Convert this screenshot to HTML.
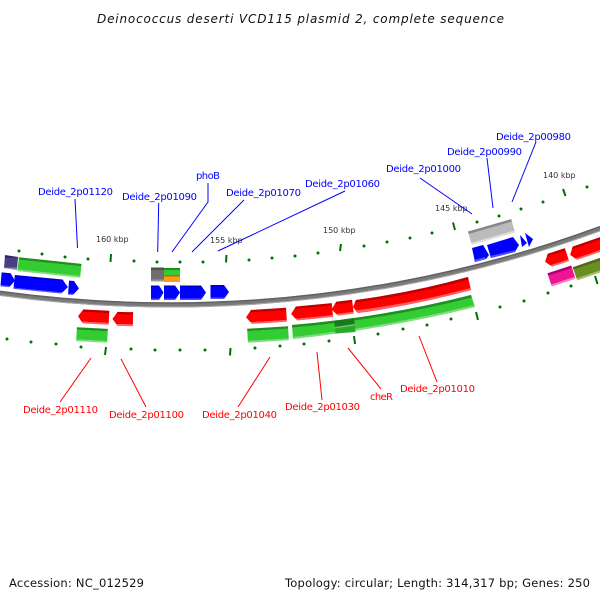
<!DOCTYPE html>
<html><head><meta charset="utf-8"><style>
html,body{margin:0;padding:0;background:#fff}
svg{display:block}
text{font-family:"DejaVu Sans","Liberation Sans",sans-serif}
.b{fill:#0000ff;font-size:10px}.r{fill:#ff0000;font-size:10px}
.k{fill:#333;font-size:8px}.t{fill:#111;font-size:11.500px}
.lb line,.lb polyline{stroke:#0000ff;fill:none;stroke-width:1}
.lr line{stroke:#ff0000;stroke-width:1}
.d circle{fill:#007000}
.m line{stroke:#007000;stroke-width:2}
</style></head><body>
<svg width="600" height="600" viewBox="0 0 600 600" xmlns="http://www.w3.org/2000/svg">
<defs>
<linearGradient id="gb" x1="0" y1="0" x2="0" y2="1"><stop offset="0" stop-color="#0000c8"/><stop offset=".1" stop-color="#0000c8"/><stop offset=".11" stop-color="#0000ff"/><stop offset=".9" stop-color="#0000ff"/><stop offset=".91" stop-color="#5050ff"/><stop offset="1" stop-color="#5050ff"/></linearGradient>
<linearGradient id="gr" x1="0" y1="0" x2="0" y2="1"><stop offset="0" stop-color="#c00000"/><stop offset=".16" stop-color="#c00000"/><stop offset=".17" stop-color="#ff0000"/><stop offset=".86" stop-color="#ff0000"/><stop offset=".87" stop-color="#ff6060"/><stop offset="1" stop-color="#ff6060"/></linearGradient>
<linearGradient id="gg" x1="0" y1="0" x2="0" y2="1"><stop offset="0" stop-color="#1f8f1f"/><stop offset=".16" stop-color="#1f8f1f"/><stop offset=".17" stop-color="#33cc33"/><stop offset=".86" stop-color="#33cc33"/><stop offset=".87" stop-color="#80dc80"/><stop offset="1" stop-color="#80dc80"/></linearGradient>
<linearGradient id="gy" x1="0" y1="0" x2="0" y2="1"><stop offset="0" stop-color="#888"/><stop offset=".18" stop-color="#888"/><stop offset=".19" stop-color="#bbb"/><stop offset=".84" stop-color="#bbb"/><stop offset=".85" stop-color="#ddd"/><stop offset="1" stop-color="#ddd"/></linearGradient>
<linearGradient id="gd" x1="0" y1="0" x2="0" y2="1"><stop offset="0" stop-color="#505050"/><stop offset=".18" stop-color="#505050"/><stop offset=".19" stop-color="#6e6e6e"/><stop offset=".84" stop-color="#6e6e6e"/><stop offset=".85" stop-color="#999"/><stop offset="1" stop-color="#999"/></linearGradient>
<linearGradient id="gn" x1="0" y1="0" x2="0" y2="1"><stop offset="0" stop-color="#2e2a60"/><stop offset=".18" stop-color="#2e2a60"/><stop offset=".19" stop-color="#484080"/><stop offset=".84" stop-color="#484080"/><stop offset=".85" stop-color="#8a84b0"/><stop offset="1" stop-color="#8a84b0"/></linearGradient>
<linearGradient id="go" x1="0" y1="0" x2="0" y2="1"><stop offset="0" stop-color="#b86a00"/><stop offset=".2" stop-color="#b86a00"/><stop offset=".21" stop-color="#ff9a1a"/><stop offset="1" stop-color="#ff9a1a"/></linearGradient>
<linearGradient id="gs" x1="0" y1="0" x2="0" y2="1"><stop offset="0" stop-color="#1f8f1f"/><stop offset=".25" stop-color="#1f8f1f"/><stop offset=".26" stop-color="#33cc33"/><stop offset="1" stop-color="#33cc33"/></linearGradient>
<linearGradient id="gp" x1="0" y1="0" x2="0" y2="1"><stop offset="0" stop-color="#b00070"/><stop offset=".18" stop-color="#b00070"/><stop offset=".19" stop-color="#ee1493"/><stop offset=".84" stop-color="#ee1493"/><stop offset=".85" stop-color="#f080c0"/><stop offset="1" stop-color="#f080c0"/></linearGradient>
<linearGradient id="gl" x1="0" y1="0" x2="0" y2="1"><stop offset="0" stop-color="#4f6a1a"/><stop offset=".18" stop-color="#4f6a1a"/><stop offset=".19" stop-color="#6b8e23"/><stop offset=".84" stop-color="#6b8e23"/><stop offset=".85" stop-color="#a8c070"/><stop offset="1" stop-color="#a8c070"/></linearGradient>
</defs>

<text class="t" x="97" y="23" font-style="italic" font-size="12" style="font-size:12px" textLength="407" lengthAdjust="spacing">Deinococcus deserti VCD115 plasmid 2, complete sequence</text>
<text class="t" x="9" y="587" textLength="135" lengthAdjust="spacing">Accession: NC_012529</text>
<text class="t" x="285" y="587" textLength="305" lengthAdjust="spacing">Topology: circular; Length: 314,317 bp; Genes: 250</text>

<!-- backbone -->
<g fill="none">
<circle cx="170" cy="-945" r="1250" stroke="#7a7a7a" stroke-width="5"/>
<circle cx="170" cy="-945" r="1248" stroke="#606060" stroke-width="1.400"/>
<circle cx="170" cy="-945" r="1252" stroke="#a8a8a8" stroke-width="1"/>
</g>

<!-- tick dots outer -->
<g class="d">
<circle cx="19" cy="251" r="1.500"/><circle cx="42" cy="254" r="1.500"/><circle cx="65" cy="257" r="1.500"/><circle cx="88" cy="259" r="1.500"/>
<circle cx="134" cy="261" r="1.500"/><circle cx="157" cy="262" r="1.500"/><circle cx="180" cy="262" r="1.500"/><circle cx="203" cy="262" r="1.500"/>
<circle cx="249" cy="260" r="1.500"/><circle cx="272" cy="258" r="1.500"/><circle cx="295" cy="256" r="1.500"/><circle cx="318" cy="253" r="1.500"/>
<circle cx="364" cy="246" r="1.500"/><circle cx="387" cy="242" r="1.500"/><circle cx="410" cy="238" r="1.500"/><circle cx="432" cy="233" r="1.500"/>
<circle cx="477" cy="222" r="1.500"/><circle cx="499" cy="216" r="1.500"/><circle cx="521" cy="209" r="1.500"/><circle cx="543" cy="202" r="1.500"/><circle cx="587" cy="187" r="1.500"/>
<!-- inner -->
<circle cx="7" cy="339" r="1.500"/><circle cx="31" cy="342" r="1.500"/><circle cx="56" cy="344" r="1.500"/><circle cx="81" cy="347" r="1.500"/>
<circle cx="131" cy="349" r="1.500"/><circle cx="155" cy="350" r="1.500"/><circle cx="180" cy="350" r="1.500"/><circle cx="205" cy="350" r="1.500"/>
<circle cx="255" cy="348" r="1.500"/><circle cx="280" cy="346" r="1.500"/><circle cx="304" cy="344" r="1.500"/><circle cx="329" cy="341" r="1.500"/>
<circle cx="378" cy="334" r="1.500"/><circle cx="403" cy="329" r="1.500"/><circle cx="427" cy="325" r="1.500"/><circle cx="451" cy="319" r="1.500"/>
<circle cx="500" cy="307" r="1.500"/><circle cx="524" cy="301" r="1.500"/><circle cx="548" cy="293" r="1.500"/><circle cx="571" cy="286" r="1.500"/>
</g>
<g class="m">
<line x1="111" y1="254" x2="110.500" y2="262"/><line x1="226.500" y1="255" x2="226" y2="262.500"/><line x1="341" y1="244" x2="340" y2="251"/><line x1="453" y1="222.500" x2="455" y2="230"/><line x1="563" y1="189" x2="565.500" y2="196"/>
<line x1="106" y1="347" x2="105" y2="355"/><line x1="230.500" y1="348" x2="230" y2="355.500"/><line x1="354" y1="336" x2="355" y2="344"/><line x1="476" y1="312" x2="478" y2="320"/><line x1="595" y1="276" x2="597.500" y2="284"/>
</g>

<!-- tick labels -->
<text class="k" x="96" y="242">160 kbp</text>
<text class="k" x="210" y="243">155 kbp</text>
<text class="k" x="323" y="233">150 kbp</text>
<text class="k" x="435" y="211">145 kbp</text>
<text class="k" x="543" y="178">140 kbp</text>

<!-- left top genes -->
<polygon points="5,255 18,257 17,270 4,268" fill="url(#gn)"/>
<g transform="translate(49.500,267.500) rotate(6)"><rect x="-31.500" y="-7" width="63" height="14" fill="url(#gg)"/></g>
<g transform="translate(8,280) rotate(5)"><polygon points="-7,-7 2,-7 7,0 2,7 -7,7" fill="url(#gb)"/></g>
<g transform="translate(41,284.500) rotate(5.500)"><polygon points="-27,-7 21,-7 27,0 21,7 -27,7" fill="url(#gb)"/></g>
<g transform="translate(73.500,288) rotate(4)"><polygon points="-5,-7 0,-7 5.500,0 0,7 -5,7" fill="url(#gb)"/></g>

<!-- middle top genes -->
<rect x="151" y="267.500" width="13" height="14" fill="url(#gd)"/>
<rect x="164" y="268" width="16" height="7" fill="url(#gs)"/>
<rect x="164" y="275" width="16" height="7" fill="url(#go)"/>
<polygon points="151,285.500 159,285.500 163.500,292.500 159,300 151,300" fill="url(#gb)"/>
<polygon points="164,285.500 175,285.500 180,292.500 175,300 164,300" fill="url(#gb)"/>
<polygon points="180,285.500 201,285.500 206,292.500 201,300 180,300" fill="url(#gb)"/>
<polygon points="210.500,285 224,285 229,292 224,299 210.500,299" fill="url(#gb)"/>

<!-- left bottom -->
<g transform="translate(94,317) rotate(3)"><polygon points="-16,0 -11,-7 15,-7 15,7 -11,7" fill="url(#gr)"/></g>
<g transform="translate(123,319) rotate(1)"><polygon points="-10.500,0 -5.500,-7 10,-7 10,7 -5.500,7" fill="url(#gr)"/></g>
<g transform="translate(92,335) rotate(3)"><rect x="-15.500" y="-7" width="31" height="14" fill="url(#gg)"/></g>

<!-- middle bottom -->
<g transform="translate(266.500,316) rotate(-3.500)"><polygon points="-20.500,0 -15,-7 20,-7 20,7 -15,7" fill="url(#gr)"/></g>
<g transform="translate(312,312) rotate(-5.500)"><polygon points="-21,0 -15.500,-7 20.500,-7 20.500,7 -15.500,7" fill="url(#gr)"/></g>
<g transform="translate(342.500,308) rotate(-7)"><polygon points="-11,0 -5.500,-7 10.500,-7 10.500,7 -5.500,7" fill="url(#gr)"/></g>
<g transform="translate(268,334.500) rotate(-3.500)"><rect x="-20.500" y="-7" width="41" height="14" fill="url(#gg)"/></g>

<!-- long red -->
<path d="M353,307 L356,300 Q415,292 468,277 L471,290 Q415,305 358,313 Z" fill="#ff0000"/>
<path d="M354.500,303 L356,300 Q415,292 468,277 L468.500,279.500 Q415,294.500 355.500,302.500 Z" fill="#c00000"/>
<path d="M356,311.500 L358,313 Q415,305 471,290 L470.500,288 Q415,303 355.500,310.500 Z" fill="#ff6060"/>

<!-- long green -->
<path d="M292,325 Q385,317 471,295 L475,307 Q385,329 293,339 Z" fill="#33cc33"/>
<path d="M292,325 Q385,317 471,295 L471.700,297.500 Q385,319.500 292.200,327.500 Z" fill="#1f8f1f"/>
<path d="M293,339 Q385,329 475,307 L474.500,305 Q385,327 292.900,337 Z" fill="#80dc80"/>
<polygon points="334,321 354,318 354.700,324 335,327" fill="#1a7a1a"/>
<polygon points="335,327 354.700,324 355,325.500 335,328.500" fill="#77bb77"/>
<polygon points="335,328.500 355,325.500 355.500,332 335.500,333.500" fill="#2aa82a"/>

<!-- right area -->
<g transform="translate(491.500,232) rotate(-16)"><rect x="-22.500" y="-7" width="45" height="14" fill="url(#gy)"/></g>
<polygon points="472,248 483,245 489,255 486,259 475,262" fill="#0000ff"/>
<polygon points="487,245 513,237 519,245 515,252 491,258" fill="#0000ff"/>
<polygon points="520,235 527,243 522,247" fill="#0000ff"/>
<polygon points="525,233 533,239 529,247" fill="#0000ff"/>
<polygon points="474,260 475,262 486,259 485,257" fill="#5050ff"/>
<polygon points="490,256 491,258 515,252 516,250" fill="#5050ff"/>

<g transform="translate(556.500,258) rotate(-18)"><polygon points="-12,0 -7,-6.800 11,-6.800 11,6.800 -7,6.800" fill="url(#gr)"/></g>
<g transform="translate(590,248) rotate(-19)"><polygon points="-21,0 -16,-7 25,-7 25,7 -16,7" fill="url(#gr)"/></g>
<g transform="translate(561.500,276) rotate(-18)"><rect x="-12.500" y="-7" width="25" height="14" fill="url(#gp)"/></g>
<g transform="translate(592,268) rotate(-19)"><rect x="-18" y="-7" width="40" height="14" fill="url(#gl)"/></g>

<!-- leader lines -->
<g class="lb">
<line x1="75" y1="199" x2="77.500" y2="248"/>
<line x1="158.700" y1="203" x2="157.700" y2="252"/>
<polyline points="208,183 208,202 172,252"/>
<line x1="244" y1="200" x2="192" y2="252"/>
<line x1="345" y1="191" x2="218" y2="251"/>
<line x1="420" y1="178" x2="472" y2="214"/>
<line x1="487" y1="158" x2="493" y2="208"/>
<line x1="536" y1="142" x2="512" y2="202"/>
</g>
<g class="lr">
<line x1="91" y1="358" x2="60" y2="402"/>
<line x1="121" y1="359" x2="146" y2="407"/>
<line x1="270" y1="357" x2="238" y2="407"/>
<line x1="317" y1="352" x2="322" y2="400"/>
<line x1="348" y1="348" x2="381" y2="389"/>
<line x1="419" y1="336" x2="437" y2="382"/>
</g>

<!-- labels -->
<text class="b" x="38" y="195" textLength="75" lengthAdjust="spacing">Deide_2p01120</text>
<text class="b" x="122" y="200" textLength="75" lengthAdjust="spacing">Deide_2p01090</text>
<text class="b" x="196" y="179" textLength="24" lengthAdjust="spacing">phoB</text>
<text class="b" x="226" y="196" textLength="75" lengthAdjust="spacing">Deide_2p01070</text>
<text class="b" x="305" y="187" textLength="75" lengthAdjust="spacing">Deide_2p01060</text>
<text class="b" x="386" y="172" textLength="75" lengthAdjust="spacing">Deide_2p01000</text>
<text class="b" x="447" y="155" textLength="75" lengthAdjust="spacing">Deide_2p00990</text>
<text class="b" x="496" y="140" textLength="75" lengthAdjust="spacing">Deide_2p00980</text>
<text class="r" x="23" y="413" textLength="75" lengthAdjust="spacing">Deide_2p01110</text>
<text class="r" x="109" y="418" textLength="75" lengthAdjust="spacing">Deide_2p01100</text>
<text class="r" x="202" y="418" textLength="75" lengthAdjust="spacing">Deide_2p01040</text>
<text class="r" x="285" y="410" textLength="75" lengthAdjust="spacing">Deide_2p01030</text>
<text class="r" x="370" y="400" textLength="23" lengthAdjust="spacing">cheR</text>
<text class="r" x="400" y="392" textLength="75" lengthAdjust="spacing">Deide_2p01010</text>
</svg>
</body></html>
